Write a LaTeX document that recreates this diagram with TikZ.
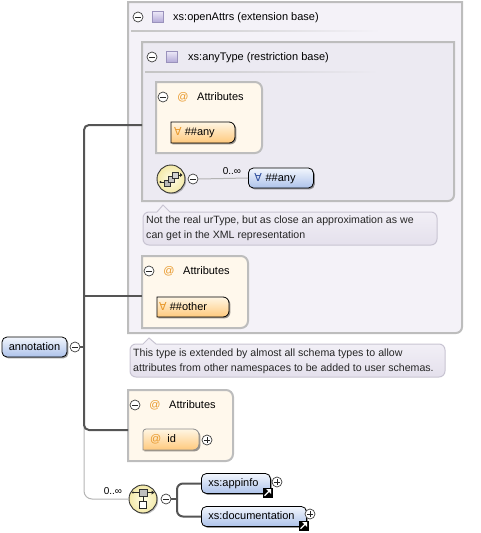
\documentclass[tikz,border=0pt]{standalone}
\usepackage{fontspec}
\setmainfont{Liberation Sans}
\newfontfamily\dvs{DejaVu Sans}
\usetikzlibrary{shadows}
\definecolor{boxline}{HTML}{BDBDBD}
\definecolor{outerfill}{HTML}{F4F2F8}
\definecolor{innerfill}{HTML}{ECEAF2}
\definecolor{attrfill}{HTML}{FFF8EC}
\definecolor{connc}{HTML}{555555}
\definecolor{thinc}{HTML}{B4B4B4}
\definecolor{bluetop}{HTML}{F2F6FD}
\definecolor{bluebot}{HTML}{ADC2EA}
\definecolor{orangetop}{HTML}{FFF6E4}
\definecolor{orangebot}{HTML}{FFC97C}
\definecolor{atcol}{HTML}{E8982A}
\definecolor{forallblue}{HTML}{2C4C9C}
\definecolor{cmttop}{HTML}{F4F2F8}
\definecolor{cmtbot}{HTML}{E4E0EC}
\definecolor{cmtline}{HTML}{C8C4D2}
\definecolor{typetop}{HTML}{ECE8F8}
\definecolor{typebot}{HTML}{B2A8D6}
\definecolor{typeline}{HTML}{9A92BC}
\definecolor{sepc}{HTML}{C4C4C4}
\definecolor{yin}{HTML}{FFFDE8}
\definecolor{yout}{HTML}{F3E9A8}
\begin{document}
\begin{tikzpicture}[x=1pt,y=-1pt,
  f11/.style={font=\fontsize{11}{13}\selectfont, text height=8pt, text depth=2pt},
  f10/.style={font=\fontsize{10}{12}\selectfont, text height=7.5pt, text depth=2pt},
  fc/.style={font=\fontsize{10.6}{12}\selectfont, text height=7.8pt, text depth=2pt},
  txt/.style={f11, inner sep=0pt, anchor=west},
  ctxt/.style={fc, inner sep=0pt, anchor=west, text=black!85},
  mc/.style={circle, draw=black!75, fill=white, line width=0.7pt, minimum size=10pt, inner sep=0pt,
    path picture={\draw[black!85, line width=0.8pt] ([xshift=-2.6pt]path picture bounding box.center) -- ([xshift=2.6pt]path picture bounding box.center);}},
  pc/.style={circle, draw=black!75, fill=white, line width=0.7pt, minimum size=10pt, inner sep=0pt,
    path picture={\draw[black!85, line width=0.8pt] ([xshift=-2.6pt]path picture bounding box.center) -- ([xshift=2.6pt]path picture bounding box.center) ([yshift=-2.6pt]path picture bounding box.center) -- ([yshift=2.6pt]path picture bounding box.center);}},
  typeic/.style={rectangle, minimum size=11pt, inner sep=0pt, draw=typeline, line width=0.8pt, top color=typetop, bottom color=typebot},
  obox/.style={draw=boxline, line width=2pt, fill=outerfill},
  ibox/.style={draw=boxline, line width=2pt, fill=innerfill},
  abox/.style={draw=boxline, line width=2pt, fill=attrfill},
  elem/.style={draw=black, line width=0.8pt, rounded corners=5pt, top color=bluetop, bottom color=bluebot, minimum height=20pt, f11,
    drop shadow={shadow xshift=1.4pt, shadow yshift=-1.4pt, fill=black, opacity=0.4}},
  attrshape/.style={draw=black, line width=0.8pt, top color=orangetop, bottom color=orangebot,
    drop shadow={shadow xshift=1.4pt, shadow yshift=-1.4pt, fill=black, opacity=0.4}},
  attrshapeo/.style={draw=black!45, line width=0.8pt, top color=orangetop, bottom color=orangebot,
    drop shadow={shadow xshift=1.4pt, shadow yshift=-1.4pt, fill=black, opacity=0.4}},
  cmt/.style={draw=cmtline, line width=1pt, top color=cmttop, bottom color=cmtbot},
  conn/.style={draw=connc, line width=2pt},
  thinl/.style={draw=thinc, line width=1pt},
  comp/.style={circle, draw=black!80, line width=0.9pt, minimum size=28pt, inner sep=0pt, inner color=yin, outer color=yout,
    drop shadow={shadow xshift=1.2pt, shadow yshift=-1.2pt, fill=black, opacity=0.25}},
  link/.style={rectangle, fill=black, minimum size=10pt, inner sep=0pt,
    path picture={
      \draw[white, line width=1.3pt] ([xshift=-3pt,yshift=-3pt]path picture bounding box.center) -- ([xshift=1.5pt,yshift=1.5pt]path picture bounding box.center);
      \fill[white] ([xshift=3.6pt,yshift=3.6pt]path picture bounding box.center) -- ([xshift=-1.4pt,yshift=3.6pt]path picture bounding box.center) -- ([xshift=3.6pt,yshift=-1.4pt]path picture bounding box.center) -- cycle;}},
  atsym/.style={f11, inner sep=0pt, text=atcol}
]
\useasboundingbox (0,0) rectangle (480,533);

% ---------- outer box xs:openAttrs ----------
\path[obox] (128,2) -- (462,2) [rounded corners=6pt] -- (462,333) [sharp corners] -- (128,333) -- cycle;
\node[mc] (om) at (138,17) {};
\node[typeic] (oi) at (158,17) {};
\node[txt] (ot) at (173,17) {xs:openAttrs (extension base)};
\fill[left color=sepc, right color=outerfill] (131,30) rectangle (380,31.6);

% ---------- inner box xs:anyType ----------
\path[ibox] (142,42) -- (454,42) [rounded corners=6pt] -- (454,201) [sharp corners] -- (142,201) -- cycle;
\node[mc] (im) at (152,57) {};
\node[typeic] (ii) at (172,57) {};
\node[txt] (it) at (188,57) {xs:anyType (restriction base)};
\fill[left color=sepc, right color=innerfill] (145,71) rectangle (378,72.6);

% ---------- attributes 1 ----------
\path[abox] (156,153) -- (156,82) [rounded corners=7pt] -- (262,82) -- (262,153) [sharp corners] -- cycle;
\node[mc] (a1m) at (163,97) {};
\node[atsym] (a1a) at (183,97) {@};
\node[txt] (a1t) at (197,97) {Attributes};
\fill[left color=attrfill, middle color=sepc, right color=attrfill] (160,109) rectangle (242,110.6);
\path[attrshape] (171,143) -- (171,122) [rounded corners=6pt] -- (235,122) -- (235,143) [sharp corners] -- cycle;
\node[txt] (o1t) at (174,132.5) {\textcolor{atcol}{\dvs ∀} \#\#any};

% ---------- any compositor ----------
\node[comp] (c1) at (171,179) {};
\draw[black!80, line width=0.6pt, fill=gray!55] (164,180) rectangle (170,186);
\draw[black!80, line width=0.6pt, fill=gray!45] (168,176) rectangle (174,182);
\draw[black!80, line width=0.6pt, fill=gray!35] (172,172) rectangle (178,178);
\draw[black!85, line width=0.9pt] (160.5,182) -- (164,182) (178,175) -- (181,175);
\fill[black!85] (160.5,182) circle (1.1pt);
\fill[black!85] (182.5,175) -- (180,173) -- (180,177) -- cycle;
\node[mc] (c1m) at (193,179) {};
\node[elem, anchor=west, inner xsep=6pt, text width=53pt, align=left] (b1) at (248,178) {\textcolor{forallblue}{\dvs ∀} \#\#any};
\draw[thinl] (c1m.east) -- (b1.west);
\node[f10, inner sep=0pt] (l1) at (232,172) {0..∞};

% ---------- comment 1 ----------
\path[cmt] [rounded corners=6pt] (143,245) -- (143,212) [sharp corners] -- (157,212) -- (163,205) -- (170,212) [rounded corners=6pt] -- (437,212) -- (437,245) -- cycle;
\node[ctxt] (cm1a) at (146,221) {Not the real urType, but as close an approximation as we};
\node[ctxt] (cm1b) at (146,236) {can get in the XML representation};

% ---------- attributes 2 ----------
\path[abox] (142,328) -- (142,256) [rounded corners=7pt] -- (248,256) -- (248,328) [sharp corners] -- cycle;
\node[mc] (a2m) at (149,271) {};
\node[atsym] (a2a) at (169,271) {@};
\node[txt] (a2t) at (183,271) {Attributes};
\fill[left color=attrfill, middle color=sepc, right color=attrfill] (146,283) rectangle (228,284.6);
\path[attrshape] (157,317) -- (157,297) [rounded corners=6pt] -- (229,297) -- (229,317) [sharp corners] -- cycle;
\node[txt] (o2t) at (159,307) {\textcolor{atcol}{\dvs ∀} \#\#other};

% ---------- comment 2 ----------
\path[cmt] [rounded corners=6pt] (130,377) -- (130,344) [sharp corners] -- (143,344) -- (149,338) -- (156,344) [rounded corners=6pt] -- (445,344) -- (445,377) -- cycle;
\node[ctxt] (cm2a) at (133,354) {This type is extended by almost all schema types to allow};
\node[ctxt] (cm2b) at (133,369) {attributes from other namespaces to be added to user schemas.};

% ---------- attributes 3 ----------
\path[abox] (128,461) -- (128,390) [rounded corners=7pt] -- (233,390) -- (233,461) [sharp corners] -- cycle;
\node[mc] (a3m) at (135,405) {};
\node[atsym] (a3a) at (155,405) {@};
\node[txt] (a3t) at (169,405) {Attributes};
\fill[left color=attrfill, middle color=sepc, right color=attrfill] (132,417) rectangle (214,418.6);
\path[attrshapeo] (143,450) [rounded corners=3pt] -- (143,429) [rounded corners=6pt] -- (199,429) -- (199,450) [sharp corners] -- cycle;
\node[txt] (o3t) at (150,439.5) {\textcolor{atcol}{@}\hspace{6pt}id};
\node[pc] (o3p) at (207,440) {};

% ---------- annotation and trunk ----------
\node[elem, minimum width=65pt] (ann) at (34.5,347) {annotation};
\node[mc] (annm) at (75,347) {};
\coordinate (tj) at (84,347);
\coordinate (tb) at (84,430);
\coordinate (iin) at (142,125);
\coordinate (a2in) at (142,296);
\coordinate (a3in) at (128,430);

% thin line to compositor (drawn first, under the trunk)
\node[comp] (c2) at (143,499) {};
\draw[thinl, rounded corners=8pt] (tj) |- (c2.west);
\node[f10, inner sep=0pt] (l2) at (113,492) {0..∞};

\draw[conn, rounded corners=5pt] (iin) -| (tb) -- (a3in);
\draw[conn] (a2in) -- (a2in -| tb);
\draw[conn] (annm.east) -- (tj);

% ---------- choice compositor ----------
\draw[black!80, line width=0.6pt, fill=gray!50] (139,489) rectangle (147,496);
\draw[black!85, line width=0.9pt] (133,492.5) -- (139,492.5) (147,492.5) -- (153,492.5);
\fill[black!85] (133,492.5) circle (1.1pt);
\fill[black!85] (154.5,492.5) -- (151.5,490.5) -- (151.5,494.5) -- cycle;
\draw[black!85, line width=0.8pt] (143,496) -- (143,501);
\draw[black!85, line width=0.8pt, fill=white] (139.5,501) rectangle (146.5,508);
\node[mc] (c2m) at (166,499) {};
\coordinate (bj) at (177,499);

\node[elem, anchor=west, inner xsep=7pt, text width=55pt, align=left] (app) at (201,483.5) {xs:appinfo};
\node[elem, anchor=west, inner xsep=7pt, text width=91pt, align=left] (doc) at (201,516.5) {xs:documentation};
\draw[conn] (c2m.east) -- (bj);
\draw[conn, rounded corners=6pt] (bj) |- (app.west);
\draw[conn, rounded corners=6pt] (bj) |- (doc.west);
\node[link, anchor=south east] (appl) at ([xshift=2pt,yshift=-4pt]app.south east) {};
\node[link, anchor=south east] (docl) at ([xshift=2pt,yshift=-4pt]doc.south east) {};
\node[pc] (appp) at (277,482) {};
\node[pc] (docp) at (310,514) {};
\end{tikzpicture}
\end{document}
